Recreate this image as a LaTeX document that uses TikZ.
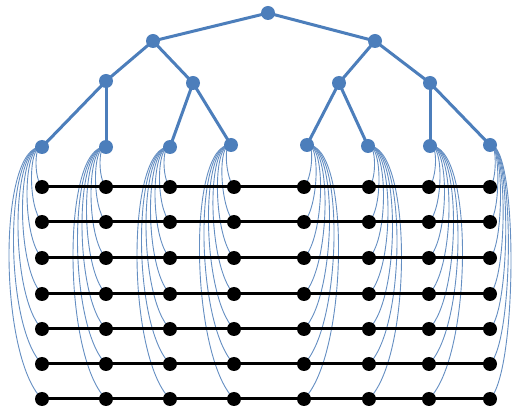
\documentclass[tikz,border=0pt]{standalone}
\usetikzlibrary{backgrounds}
\definecolor{treeblue}{RGB}{76,126,187}
\definecolor{curveblue}{RGB}{100,142,194}
\begin{document}
\begin{tikzpicture}[x=1pt,y=-1pt,
  tnode/.style={circle,fill=treeblue,inner sep=0pt,minimum size=14pt},
  bnode/.style={circle,fill=black,inner sep=0pt,minimum size=14pt},
  tedge/.style={treeblue,line width=3pt},
  curve/.style={curveblue,line width=0.9pt},
  rowline/.style={black,line width=3pt}]
\useasboundingbox (0,0) rectangle (515,406);
% tree
\node[tnode] (R) at (268,13) {};
\node[tnode] (A1) at (153,41) {};
\node[tnode] (A2) at (375,41) {};
\node[tnode] (C1) at (106,81) {};
\node[tnode] (C2) at (193,83) {};
\node[tnode] (C3) at (339,83) {};
\node[tnode] (C4) at (430,83) {};
\node[tnode] (L1) at (42,147) {};
\node[tnode] (L2) at (106,147) {};
\node[tnode] (L3) at (170,147) {};
\node[tnode] (L4) at (231,145) {};
\node[tnode] (L5) at (307,145) {};
\node[tnode] (L6) at (368,146) {};
\node[tnode] (L7) at (430,146) {};
\node[tnode] (L8) at (490,145) {};
% grid
\foreach \c/\x in {1/42,2/106,3/170,4/234,5/304,6/369,7/429,8/490}{
  \foreach \r/\y in {1/187,2/222,3/258,4/294,5/329,6/364,7/399}{
    \node[bnode] (B-\c-\r) at (\x,\y) {};
  }
}
\begin{pgfonlayer}{background}
\draw[tedge] (R.center) -- (A1.center);
\draw[tedge] (R.center) -- (A2.center);
\draw[tedge] (A1.center) -- (C1.center);
\draw[tedge] (A1.center) -- (C2.center);
\draw[tedge] (A2.center) -- (C3.center);
\draw[tedge] (A2.center) -- (C4.center);
\draw[tedge] (C1.center) -- (L1.center);
\draw[tedge] (C1.center) -- (L2.center);
\draw[tedge] (C2.center) -- (L3.center);
\draw[tedge] (C2.center) -- (L4.center);
\draw[tedge] (C3.center) -- (L5.center);
\draw[tedge] (C3.center) -- (L6.center);
\draw[tedge] (C4.center) -- (L7.center);
\draw[tedge] (C4.center) -- (L8.center);
% curves, left half bulge left
\foreach \c in {1,2,3,4}{
  \foreach \r in {1,...,7}{
    \pgfmathsetmacro{\b}{8+6*(\r-1)}
    \draw[curve] (L\c.center) .. controls +(-\b,-3) and +(-\b,-\b) .. (B-\c-\r.center);
  }
}
\foreach \c in {5,6,7}{
  \foreach \r in {1,...,7}{
    \pgfmathsetmacro{\b}{8+6*(\r-1)}
    \draw[curve] (L\c.center) .. controls +(\b,-3) and +(\b,-\b) .. (B-\c-\r.center);
  }
}
\foreach \r in {1,...,7}{
  \pgfmathsetmacro{\b}{7+3.5*(\r-1)}
  \draw[curve] (L8.center) .. controls +(\b,-3) and +(\b,-\b) .. (B-8-\r.center);
}
\foreach \r in {1,...,7}{
  \draw[rowline] (B-1-\r.center) -- (B-8-\r.center);
}
\end{pgfonlayer}
\end{tikzpicture}
\end{document}
